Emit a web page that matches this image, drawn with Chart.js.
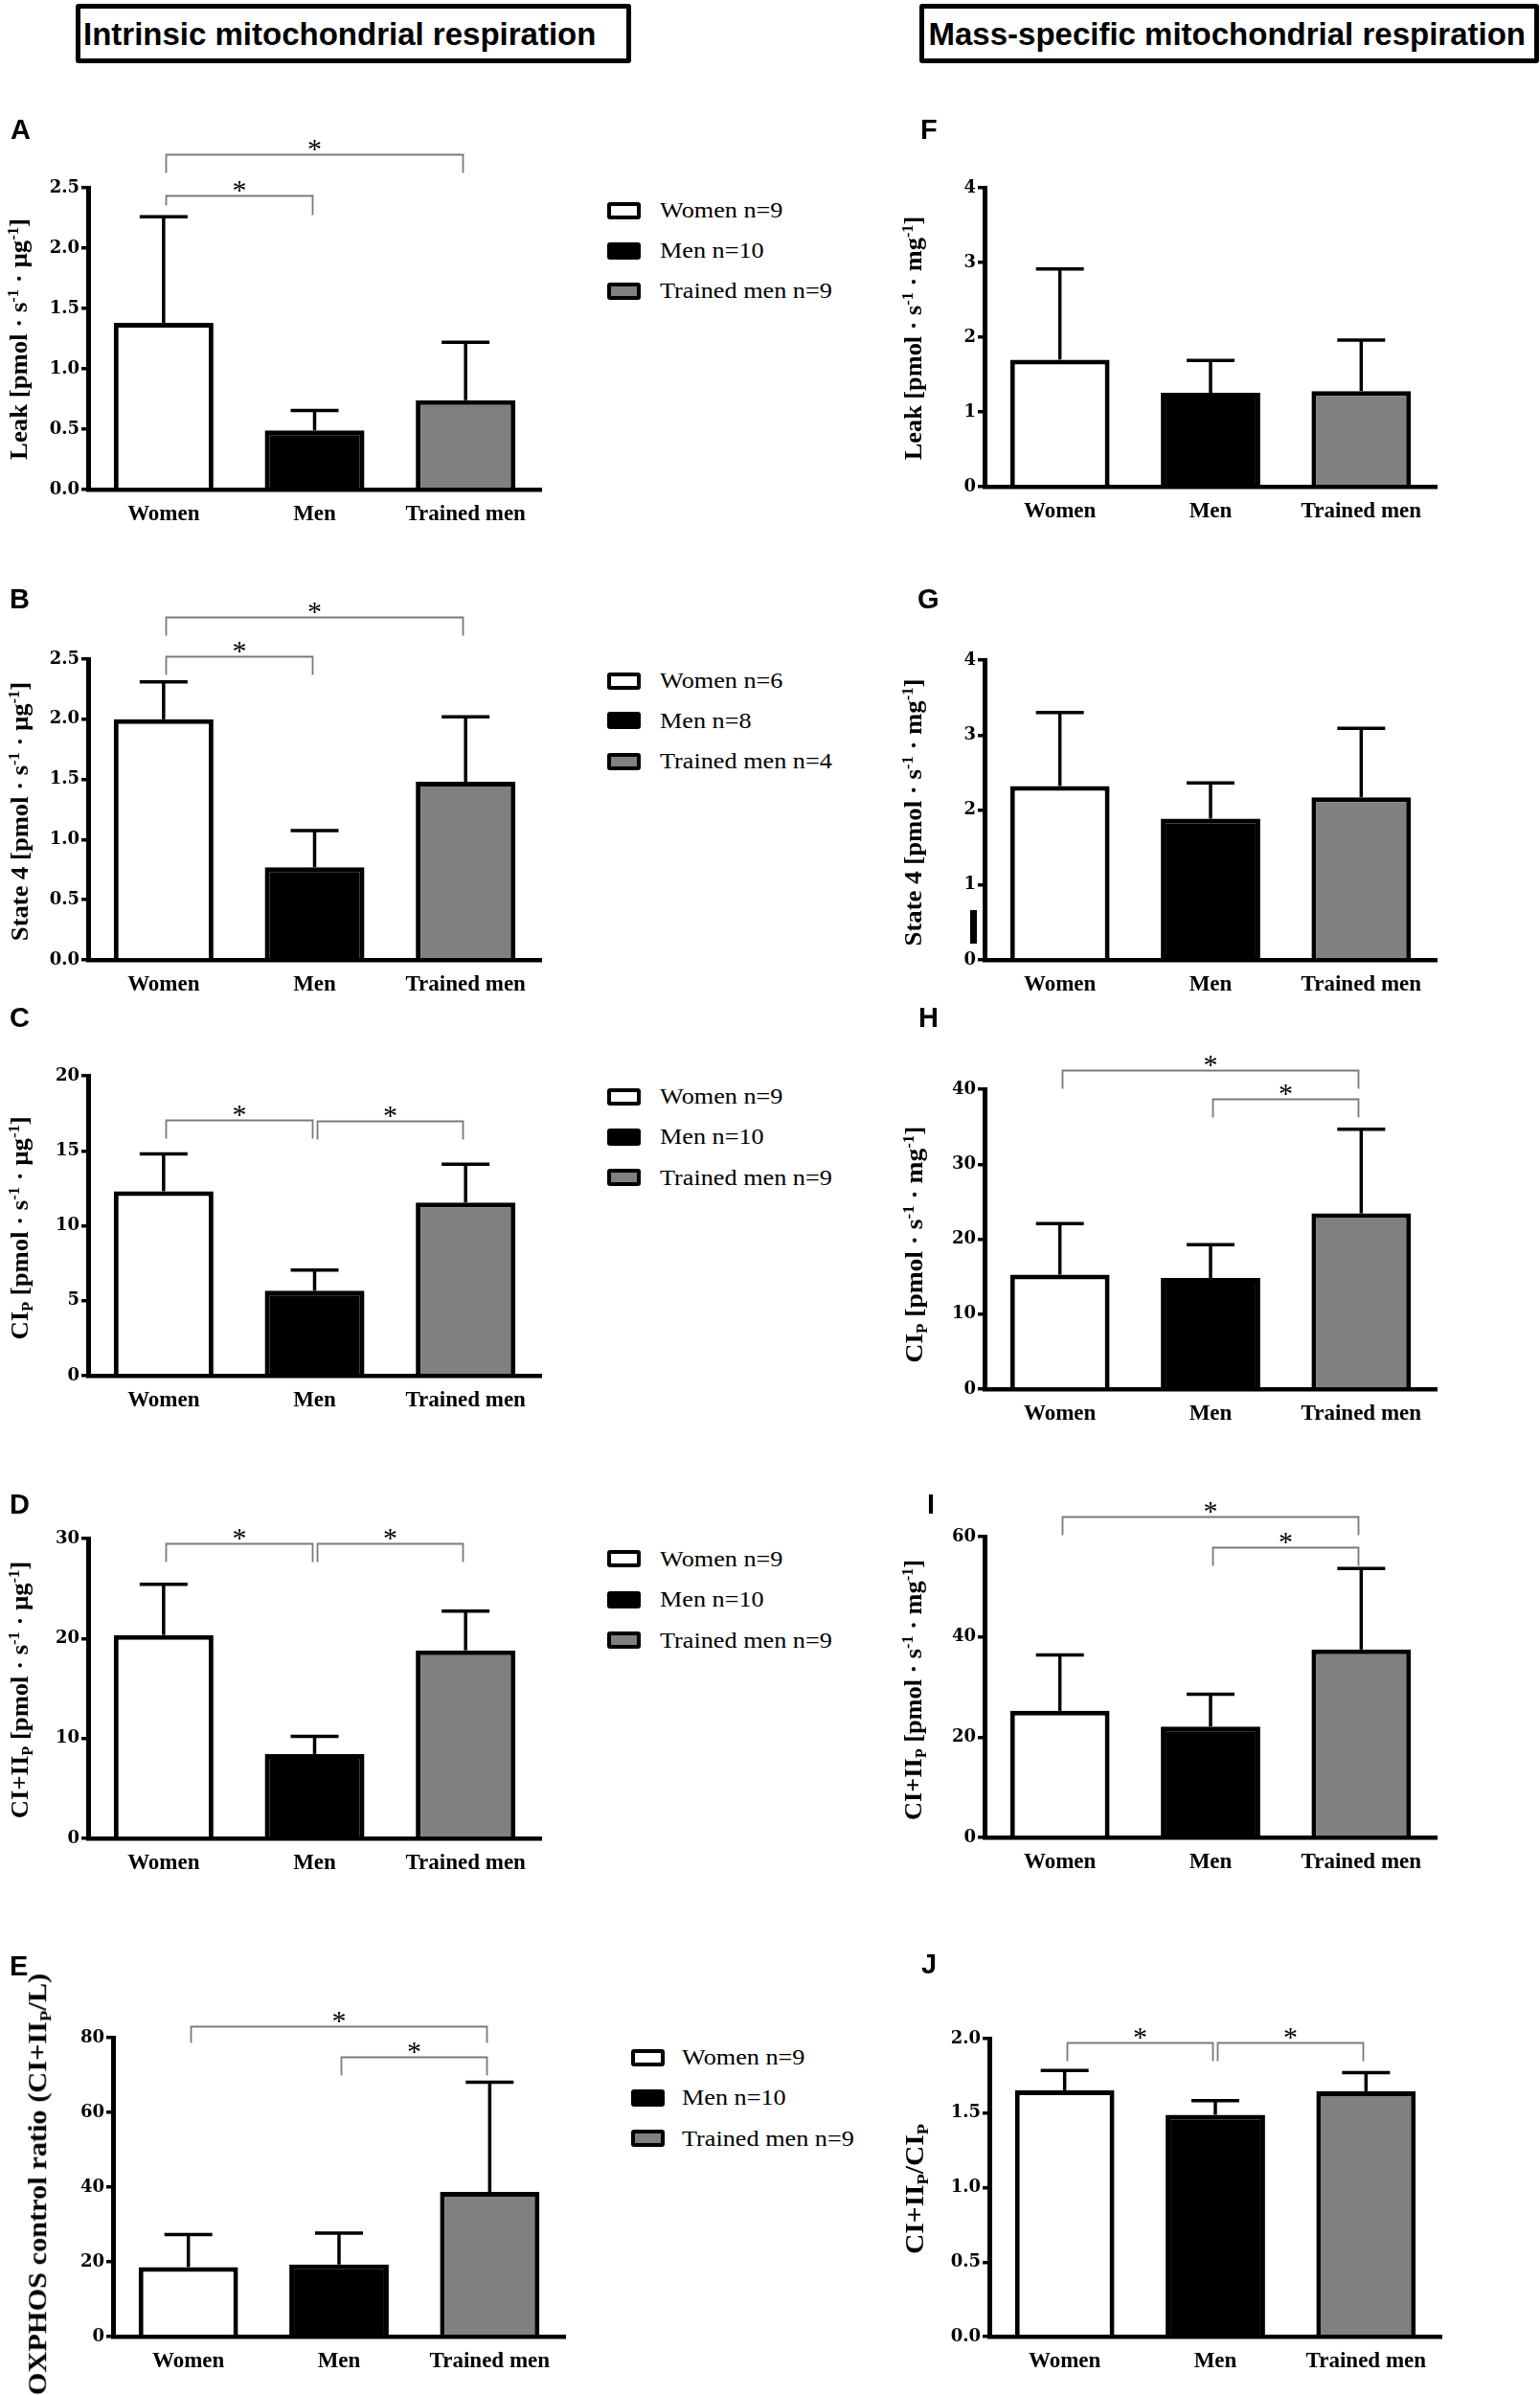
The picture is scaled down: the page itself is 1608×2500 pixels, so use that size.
<!DOCTYPE html>
<html><head><meta charset="utf-8">
<script src="https://cdn.jsdelivr.net/npm/chart.js@4.4.1/dist/chart.umd.min.js"></script>
<style>
html,body{margin:0;padding:0;background:#fff;}
body{width:1608px;height:2500px;position:relative;overflow:hidden;}
.tbox{position:absolute;border:5px solid #000;border-radius:3px;box-sizing:border-box;}
.ttext{position:absolute;font-family:'Liberation Sans',Arial,sans-serif;font-weight:bold;font-size:33px;line-height:1;white-space:nowrap;color:#000;}
.letter{position:absolute;font-family:'Liberation Sans',Arial,sans-serif;font-weight:bold;font-size:29px;line-height:1;color:#000;}
.ytitle{position:absolute;font-family:'Liberation Serif','Times New Roman',serif;font-weight:bold;white-space:nowrap;line-height:1;transform-origin:50% 50%;color:#000;}
.ytitle sup{font-size:0.62em;position:relative;top:-0.55em;vertical-align:baseline;line-height:0;}
.ytitle sub{font-size:0.62em;position:relative;top:0.3em;vertical-align:baseline;line-height:0;}
.leg{position:absolute;font-family:'Liberation Serif','Times New Roman',serif;font-size:23px;white-space:nowrap;line-height:1;transform-origin:0 50%;transform:scaleX(1.14);color:#000;}
.legbox{position:absolute;width:35px;height:18px;border:4px solid #000;box-sizing:border-box;border-radius:3px;}
canvas{position:absolute;}
</style></head><body>
<script>
// ---------------- data ----------------
const categories = ['Women', 'Men', 'Trained men'];

// Intrinsic mitochondrial respiration (mean, SD)
const leakIntrinsicMean   = [1.38, 0.49, 0.74];
const leakIntrinsicSD     = [0.88, 0.165, 0.48];
const state4IntrinsicMean = [2.00, 0.77, 1.48];
const state4IntrinsicSD   = [0.31, 0.305, 0.54];
const ciIntrinsicMean     = [12.3, 5.67, 11.55];
const ciIntrinsicSD       = [2.5, 1.37, 2.56];
const ciiiIntrinsicMean   = [20.35, 8.44, 18.82];
const ciiiIntrinsicSD     = [5.08, 1.76, 3.93];
const oxphosRatioMean     = [18.6, 19.3, 38.7];
const oxphosRatioSD       = [8.7, 8.4, 29.4];

// Mass-specific mitochondrial respiration (mean, SD)
const leakMassMean   = [1.70, 1.255, 1.28];
const leakMassSD     = [1.215, 0.435, 0.68];
const state4MassMean = [2.32, 1.885, 2.17];
const state4MassSD   = [0.98, 0.475, 0.92];
const ciMassMean     = [15.26, 14.83, 23.44];
const ciMassSD       = [6.83, 4.44, 11.22];
const ciiiMassMean   = [25.25, 22.13, 37.49];
const ciiiMassSD     = [11.17, 6.44, 16.14];
const ciiiCiRatioMean = [1.653, 1.489, 1.647];
const ciiiCiRatioSD   = [0.133, 0.094, 0.125];

// y tick values
const ticksA = [0, 0.5, 1.0, 1.5, 2.0, 2.5];
const ticksB = [0, 0.5, 1.0, 1.5, 2.0, 2.5];
const ticksC = [0, 5, 10, 15, 20];
const ticksD = [0, 10, 20, 30];
const ticksE = [0, 20, 40, 60, 80];
const ticksF = [0, 1, 2, 3, 4];
const ticksG = [0, 1, 2, 3, 4];
const ticksH = [0, 10, 20, 30, 40];
const ticksI = [0, 20, 40, 60];
const ticksJ = [0, 0.5, 1.0, 1.5, 2.0];

// significance brackets: [fromCategory, toCategory, level (data units)]
const bracketsA = [[0, 1, 2.435], [0, 2, 2.78]];
const bracketsB = [[0, 1, 2.525], [0, 2, 2.85]];
const bracketsC = [[0, 1, 17.06], [1, 2, 16.97]];
const bracketsD = [[0, 1, 29.49], [1, 2, 29.55]];
const bracketsE = [[0, 2, 83.0], [1, 2, 74.8]];
const bracketsH = [[0, 2, 42.6], [1, 2, 38.68]];
const bracketsI = [[0, 2, 63.97], [1, 2, 57.96]];
const bracketsJ = [[0, 1, 1.976], [1, 2, 1.972]];

// legend labels
const legendA = ['Women n=9', 'Men n=10', 'Trained men n=9'];
const legendB = ['Women n=6', 'Men n=8', 'Trained men n=4'];
const legendC = ['Women n=9', 'Men n=10', 'Trained men n=9'];
const legendD = ['Women n=9', 'Men n=10', 'Trained men n=9'];
const legendE = ['Women n=9', 'Men n=10', 'Trained men n=9'];

// ---------------- layout / style ----------------
const SERIF = "'Liberation Serif', 'Times New Roman', serif";
const TICKFONT = "'DejaVu Serif', 'Liberation Serif', serif";
const barFill = ['#ffffff', '#000000', '#808080'];
const mu = '\u00b5', dot = '\u00b7';
const unitUg = ` [pmol ${dot} s<sup>-1</sup> ${dot} ${mu}g<sup>-1</sup>]`;
const unitMg = ` [pmol ${dot} s<sup>-1</sup> ${dot} mg<sup>-1</sup>]`;

const panels = [
  {L:'A', mean:leakIntrinsicMean, sd:leakIntrinsicSD, ticks:ticksA, dec:1, br:bracketsA, legs:[[10,20],[19,19]],
   g:{ax:92, xr:565, top:196, bottom:511}, title:'Leak' + unitUg, tt:{cx:20.5, cy:354, len:252, fs:26},
   letter:{x:11, base:145}, legend:{labels:legendA, bx:634, tx:689, rows:[219.6, 261.7, 303.5]}},
  {L:'B', mean:state4IntrinsicMean, sd:state4IntrinsicSD, ticks:ticksB, dec:1, br:bracketsB,
   g:{ax:92, xr:565, top:688, bottom:1002}, title:'State 4' + unitUg, tt:{cx:20.5, cy:846.7, len:270, fs:26},
   letter:{x:10, base:635}, legend:{labels:legendB, bx:634, tx:689, rows:[710.7, 752.3, 795]}},
  {L:'C', mean:ciIntrinsicMean, sd:ciIntrinsicSD, ticks:ticksC, dec:0, br:bracketsC,
   g:{ax:92, xr:565, top:1123, bottom:1436}, title:'CI<sub>P</sub>' + unitUg, tt:{cx:20.5, cy:1281.5, len:233, fs:26},
   letter:{x:10, base:1072}, legend:{labels:legendC, bx:634, tx:689, rows:[1145, 1186.7, 1229.3]}},
  {L:'D', mean:ciiiIntrinsicMean, sd:ciiiIntrinsicSD, ticks:ticksD, dec:0, br:bracketsD,
   g:{ax:92, xr:565, top:1606, bottom:1919}, title:'CI+II<sub>P</sub>' + unitUg, tt:{cx:20.5, cy:1764, len:268, fs:26},
   letter:{x:10, base:1580}, legend:{labels:legendD, bx:634, tx:689, rows:[1627.3, 1670, 1712.3]}},
  {L:'E', mean:oxphosRatioMean, sd:oxphosRatioSD, ticks:ticksE, dec:0, br:bracketsE, legs:[[17,17],[19,19]],
   g:{ax:118, xr:590, top:2127, bottom:2439}, title:'OXPHOS control ratio (CI+II<sub>P</sub>/L)', tt:{cx:39, cy:2280, len:440, fs:28},
   letter:{x:10, base:2062}, legend:{labels:legendE, bx:659, tx:712, rows:[2147.7, 2190, 2232.3]}},
  {L:'F', mean:leakMassMean, sd:leakMassSD, ticks:ticksF, dec:0, br:[],
   g:{ax:1028, xr:1500, top:196, bottom:508}, title:'Leak' + unitMg, tt:{cx:954, cy:352.5, len:255, fs:26},
   letter:{x:961, base:145}},
  {L:'G', mean:state4MassMean, sd:state4MassSD, ticks:ticksG, dec:0, br:[],
   g:{ax:1028, xr:1500, top:689, bottom:1002}, title:'State 4' + unitMg, tt:{cx:954, cy:847.5, len:279, fs:26},
   letter:{x:958, base:635}},
  {L:'H', mean:ciMassMean, sd:ciMassSD, ticks:ticksH, dec:0, br:bracketsH,
   g:{ax:1028, xr:1500, top:1137, bottom:1450}, title:'CI<sub>P</sub>' + unitMg, tt:{cx:955, cy:1298.5, len:247, fs:26},
   letter:{x:959, base:1072}},
  {L:'I', mean:ciiiMassMean, sd:ciiiMassSD, ticks:ticksI, dec:0, br:bracketsI,
   g:{ax:1028, xr:1500, top:1604, bottom:1918}, title:'CI+II<sub>P</sub>' + unitMg, tt:{cx:954, cy:1764, len:272, fs:26},
   letter:{x:968, base:1580}},
  {L:'J', mean:ciiiCiRatioMean, sd:ciiiCiRatioSD, ticks:ticksJ, dec:1, br:bracketsJ,
   g:{ax:1033, xr:1505, top:2128, bottom:2439}, title:'CI+II<sub>P</sub>/CI<sub>P</sub>', tt:{cx:954, cy:2285, len:136, fs:28},
   letter:{x:962, base:2060}}
];

function el(cls, css, html) {
  const d = document.createElement('div');
  d.className = cls;
  Object.assign(d.style, css);
  if (html !== undefined) d.innerHTML = html;
  document.body.appendChild(d);
  return d;
}

// Column titles
el('tbox', {left:'79px', top:'4px', width:'580px', height:'62px'});
el('ttext', {left:'87px', top:'18.5px'}, 'Intrinsic mitochondrial respiration');
el('tbox', {left:'960px', top:'4px', width:'647px', height:'62px'});
el('ttext', {left:'969.5px', top:'18.5px'}, 'Mass-specific mitochondrial respiration');

// stray mark in panel G of the original figure
el('abs', {position:'absolute', left:'1013px', top:'950px', width:'7px', height:'35px', background:'#000'});

function errPlugin(p) {
  return {
    id: 'errbars' + p.L,
    afterDatasetsDraw(chart) {
      const ctx = chart.ctx, ys = chart.scales.y, meta = chart.getDatasetMeta(0);
      ctx.save();
      ctx.strokeStyle = '#000';
      ctx.lineWidth = 3.5;
      meta.data.forEach((bar, i) => {
        const x = bar.x;
        const y0 = ys.getPixelForValue(p.mean[i]);
        const y1 = ys.getPixelForValue(p.mean[i] + p.sd[i]);
        ctx.beginPath(); ctx.moveTo(x, y0); ctx.lineTo(x, y1); ctx.stroke();
        ctx.beginPath(); ctx.moveTo(x - 25, y1); ctx.lineTo(x + 25, y1); ctx.stroke();
      });
      ctx.restore();
    }
  };
}

function bracketPlugin(p) {
  return {
    id: 'brackets' + p.L,
    afterDraw(chart) {
      const ctx = chart.ctx, xs = chart.scales.x, ys = chart.scales.y;
      ctx.save();
      p.br.forEach((b, k) => {
        const legs = (p.legs && p.legs[k]) || [19, 19];
        const y = Math.round(ys.getPixelForValue(b[2])) + 0.5;
        const x1 = Math.round(xs.getPixelForValue(b[0]) + 2) + 0.5;
        const x2 = Math.round(xs.getPixelForValue(b[1]) - 3) + 0.5;
        ctx.strokeStyle = '#7a7a7a';
        ctx.lineWidth = 1.8;
        ctx.beginPath();
        ctx.moveTo(x1, y + legs[0]); ctx.lineTo(x1, y); ctx.lineTo(x2, y); ctx.lineTo(x2, y + legs[1]);
        ctx.stroke();
        ctx.fillStyle = '#000';
        ctx.font = '30px ' + SERIF;
        ctx.textAlign = 'center';
        ctx.textBaseline = 'alphabetic';
        ctx.fillText('*', (x1 + x2) / 2, y + 3);
      });
      ctx.restore();
    }
  };
}

function makePanel(p) {
  const g = p.g, YW = 80, XH = 50, PT = 70, PR = 12;
  const W = (g.xr - g.ax) + YW + PR;
  const H = (g.bottom - g.top) + PT + XH;
  const cv = document.createElement('canvas');
  cv.width = W; cv.height = H;
  cv.style.left = (g.ax - YW) + 'px';
  cv.style.top = (g.top - PT) + 'px';
  cv.style.width = W + 'px'; cv.style.height = H + 'px';
  document.body.appendChild(cv);

  new Chart(cv.getContext('2d'), {
    type: 'bar',
    data: {
      labels: categories,
      datasets: [{
        data: p.mean,
        backgroundColor: barFill,
        borderColor: '#000',
        borderWidth: 5,
        borderSkipped: 'start',
        barPercentage: 0.66,
        categoryPercentage: 1
      }]
    },
    options: {
      responsive: false,
      animation: false,
      devicePixelRatio: 1,
      layout: {padding: {top: PT, left: 0, right: PR, bottom: 0}},
      plugins: {legend: {display: false}, tooltip: {enabled: false}},
      scales: {
        x: {
          z: 1,
          grid: {display: false, drawTicks: false},
          border: {display: true, color: '#000', width: 4.5},
          ticks: {color: '#000', font: {family: SERIF, weight: 'bold', size: 23}, padding: 12, maxRotation: 0, autoSkip: false},
          afterFit: s => { s.height = XH; }
        },
        y: {
          z: 1,
          min: 0,
          max: p.ticks[p.ticks.length - 1],
          grid: {display: true, drawOnChartArea: false, drawTicks: true, tickLength: 7, lineWidth: 3.5, color: '#000'},
          border: {display: true, color: '#000', width: 5},
          ticks: {color: '#000', font: {family: TICKFONT, weight: 'bold', size: 18}, padding: 2,
                  callback: v => Number(v).toFixed(p.dec)},
          afterBuildTicks: s => { s.ticks = p.ticks.map(v => ({value: v})); },
          afterFit: s => { s.width = YW; }
        }
      }
    },
    plugins: [errPlugin(p), bracketPlugin(p)]
  });

  // panel letter
  el('letter', {left: p.letter.x + 'px', top: (p.letter.base - 24.5) + 'px'}, p.L);

  // y-axis title (rotated, stretched to the original length)
  const t = el('ytitle', {left: '0px', top: '0px', fontSize: p.tt.fs + 'px'}, p.title);
  const w = t.offsetWidth, h = t.offsetHeight;
  t.style.left = (p.tt.cx - w / 2) + 'px';
  t.style.top = (p.tt.cy - h / 2) + 'px';
  t.style.transform = `rotate(-90deg) scaleX(${(p.tt.len / w).toFixed(4)})`;

  // legend
  if (p.legend) {
    p.legend.labels.forEach((lab, i) => {
      const r = p.legend.rows[i];
      el('legbox', {left: p.legend.bx + 'px', top: (r - 9) + 'px', background: barFill[i]});
      el('leg', {left: p.legend.tx + 'px', top: (r - 11.6) + 'px'}, lab);
    });
  }
}

panels.forEach(makePanel);
</script>
</body></html>
